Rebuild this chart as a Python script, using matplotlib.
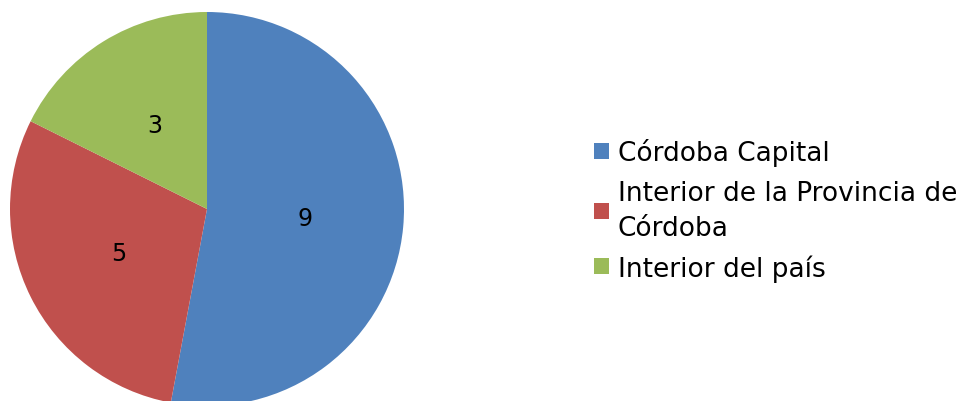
import matplotlib.pyplot as plt


CATEGORIES = ['Córdoba Capital', 'Interior de la Provincia de\nCórdoba', 'Interior del país']
COUNTS = [9, 5, 3]
COLORS = ['#4F81BD', '#C0504D', '#9BBB59']


def count_label(pct):
    # turn the percentage back into the raw count
    return '%d' % round(pct * sum(COUNTS) / 100.0)


fig = plt.figure(figsize=(9.68, 4.02), dpi=100)
ax = fig.add_axes([0, 0, 1, 1])

wedges, texts, autotexts = ax.pie(COUNTS, colors=COLORS, startangle=90, counterclock=False,
                                  center=(207, 192), radius=197, frame=True,
                                  autopct=count_label, pctdistance=0.5,
                                  textprops={'fontsize': 17, 'color': 'black'})
ax.set_xlim(0, 968)
ax.set_ylim(0, 402)
ax.set_aspect('equal')
ax.axis('off')

leg = ax.legend(wedges, CATEGORIES, loc='center left',
                bbox_to_anchor=(594, 191), bbox_transform=ax.transData,
                frameon=False, fontsize=19, borderpad=0, borderaxespad=0,
                handlelength=0.56, handleheight=0.56, handletextpad=0.34,
                labelspacing=0.5)
for t in leg.get_texts():
    t.set_linespacing(1.47)

fig.savefig('out.png', dpi=100)
